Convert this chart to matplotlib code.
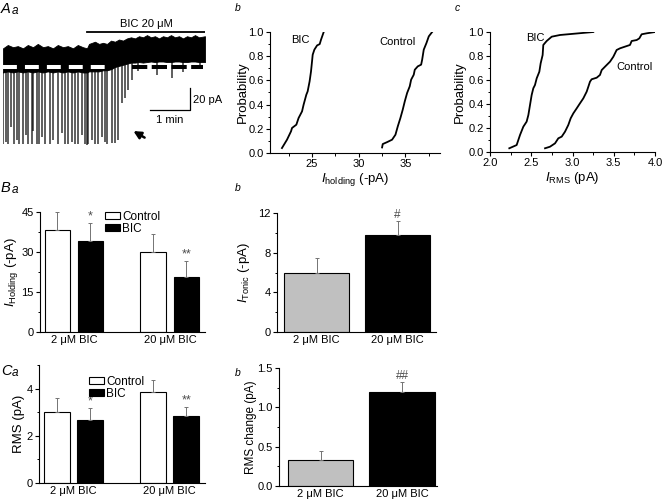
import numpy as np
import matplotlib
matplotlib.use("Agg")
import matplotlib.pyplot as plt
from matplotlib.patches import Patch
from matplotlib.ticker import MultipleLocator

plt.rcParams['font.family'] = ['Liberation Sans', 'DejaVu Sans']
plt.rcParams['mathtext.fontset'] = 'custom'
plt.rcParams['mathtext.rm'] = 'Liberation Sans'
plt.rcParams['mathtext.it'] = 'Liberation Sans:italic'
plt.rcParams['lines.scale_dashes'] = False
plt.rcParams['font.size'] = 8

# ---- data ----
# Aa: current trace (time in min, current in pA relative to control baseline)
env_t = [0, 0.12, 0.25, 0.37, 0.5, 0.62, 0.75, 0.87, 1.0, 1.12, 1.25, 1.37, 1.5, 1.62,
         1.75, 1.87, 2.0, 2.1, 2.15, 2.3, 2.4, 2.5, 2.6, 2.7, 2.8, 2.9, 3.0, 3.1,
         3.2, 3.3, 3.4, 3.5, 3.6, 3.7, 3.8, 3.9, 4.0, 4.1, 4.2, 4.3, 4.4, 4.5,
         4.6, 4.7, 4.8, 4.9, 5.05]
env_top = [17, 20, 18, 19, 17, 20, 18, 21, 18, 19, 17, 20, 18, 19,
           17, 20, 18, 17, 21, 23, 21, 22, 21, 24, 23, 25, 24, 26,
           27, 26, 28, 27, 29, 27, 28, 26, 28, 27, 29, 27, 28, 26,
           28, 27, 29, 27, 28]
env_bot = [-5, -4, -5, -4, -5, -4, -5, -4, -5, -4, -5, -4, -5, -4,
           -5, -4, -5, -5, -4, -4, -4, -3, -3, -2, 0, 1, 2, 3,
           4, 4, 4.5, 4, 4.5, 5, 4.5, 5, 5, 4.5, 4.5, 5, 5, 4.5,
           4.5, 5, 5, 4.5, 4.5]
spike_t = [0.01, 0.075, 0.13, 0.19, 0.275, 0.34, 0.41, 0.51, 0.575, 0.63, 0.72, 0.76,
           0.84, 0.91, 0.97, 1.05, 1.175, 1.26, 1.38, 1.47, 1.55, 1.63, 1.72, 1.8,
           1.88, 1.97, 2.05, 2.09, 2.13, 2.22, 2.3, 2.38, 2.47, 2.55, 2.61, 2.72,
           2.8, 2.88, 2.97, 3.05, 3.13, 3.22, 3.38, 3.85, 4.22, 4.5, 4.92]
spike_amp = [-70, -68, -70, -55, -70, -66, -70, -70, -62, -70, -70, -58,
             -70, -70, -64, -70, -70, -66, -70, -60, -70, -70, -68, -70,
             -70, -62, -70, -71, -70, -66, -70, -70, -64, -68, -70, -69,
             -69, -66, -33, -28, -21, -12, -4, -7, -10, -5, -1]

# Ab: cumulative holding current
hold_bic_x = [21.78, 22.32, 22.75, 22.86, 23.32, 23.56, 23.93, 24.1, 24.39, 24.53,
              24.74, 24.89, 25.0, 25.07, 25.25, 25.54, 25.82, 25.96, 26.25]
hold_bic_p = [0.041, 0.11, 0.179, 0.207, 0.234, 0.289, 0.344, 0.4, 0.482, 0.509,
              0.592, 0.674, 0.757, 0.812, 0.854, 0.889, 0.9, 0.936, 1.0]
hold_ctl_x = [32.5, 32.57, 33.04, 33.57, 33.93, 34.18, 34.46, 34.71, 34.93, 35.18,
              35.46, 35.61, 35.89, 36.0, 36.32, 36.68, 36.79, 36.96, 37.25, 37.5, 37.86]
hold_ctl_p = [0.046, 0.074, 0.09, 0.11, 0.151, 0.22, 0.289, 0.358, 0.427, 0.496,
              0.551, 0.606, 0.647, 0.688, 0.716, 0.73, 0.771, 0.854, 0.909, 0.964, 1.0]

# Ac: cumulative RMS noise
rms_bic_x = [2.234, 2.323, 2.364, 2.404, 2.444, 2.465, 2.485, 2.505, 2.525, 2.545,
             2.566, 2.598, 2.614, 2.638, 2.646, 2.687, 2.748, 2.848, 3.252]
rms_bic_p = [0.031, 0.058, 0.142, 0.211, 0.253, 0.308, 0.392, 0.475, 0.531, 0.558,
             0.614, 0.669, 0.739, 0.808, 0.892, 0.925, 0.961, 0.975, 1.0]
rms_ctl_x = [2.667, 2.727, 2.788, 2.828, 2.869, 2.909, 2.949, 2.978, 3.01, 3.051,
             3.091, 3.131, 3.172, 3.192, 3.212, 3.232, 3.293, 3.333, 3.354, 3.394,
             3.455, 3.495, 3.535, 3.576, 3.636, 3.697, 3.717, 3.778, 3.81, 3.838,
             3.899, 4.0]
rms_ctl_p = [0.031, 0.044, 0.072, 0.114, 0.128, 0.169, 0.225, 0.281, 0.322, 0.364,
             0.406, 0.447, 0.503, 0.544, 0.586, 0.606, 0.619, 0.642, 0.683, 0.711,
             0.753, 0.794, 0.85, 0.864, 0.878, 0.892, 0.925, 0.933, 0.947, 0.981,
             0.989, 1.0]

groups = ['2 \u03bcM BIC', '20 \u03bcM BIC']

# Ba: holding current
hold_ctl = [38.2, 30.1]
hold_ctl_err = [6.9, 6.6]
hold_bic = [34.1, 20.5]
hold_bic_err = [6.8, 6.2]
hold_sig = ['*', '**']

# Bb: tonic current
tonic = [6.0, 9.8]
tonic_err = [1.5, 1.35]
tonic_sig = ['', '#']

# Ca: RMS noise
rms_ctl = [3.0, 3.86]
rms_ctl_err = [0.6, 0.52]
rms_bic = [2.65, 2.82]
rms_bic_err = [0.53, 0.4]
rms_sig = ['*', '**']

# Cb: RMS change
rms_change = [0.33, 1.19]
rms_change_err = [0.12, 0.13]
rms_change_sig = ['', '##']

W, H = 664, 499
fig = plt.figure(figsize=(W / 100, H / 100), dpi=100)


def px_axes(x0, y0, x1, y1):
    ax = fig.add_axes([x0 / W, 1 - y1 / H, (x1 - x0) / W, (y1 - y0) / H])
    ax.px_left, ax.px_width = x0, x1 - x0
    return ax


def ylabel_at(ax, text, size, right_px):
    # right edge of the rotated label sits at right_px (figure pixels)
    ax.set_ylabel(text, fontsize=size)
    ax.yaxis.set_label_coords((right_px - ax.px_left) / ax.px_width, 0.5)


def origin_style(ax):
    for s in ['top', 'right']:
        ax.spines[s].set_visible(False)
    for s in ['left', 'bottom']:
        ax.spines[s].set_linewidth(0.8)
    ax.tick_params(which='major', direction='out', length=3, width=0.8, labelsize=8, pad=1.5)
    ax.tick_params(which='minor', direction='out', length=1.8, width=0.7)


def panel_label(x, y, big, small=None):
    fig.text(x / W, 1 - y / H, big, fontsize=10.5 if small else 7.5, style='italic', va='top')
    if small:
        fig.text((x + 11) / W, 1 - (y + 3) / H, small, fontsize=8.5, style='italic', va='top')


# ---- Aa trace ----
ax = px_axes(3, 15, 205, 150)
ax.set_xlim(0, 5.05)
ax.set_ylim(-75.5, 47.3)
ax.axis('off')
ax.fill_between(env_t, env_bot, env_top, color='black', lw=0.6)
ax.vlines(spike_t, np.interp(spike_t, env_t, env_bot), spike_amp, color='black',
          alpha=0.8, lw=1.1)
ax.plot([0, 2.6], [0, 0], color='white', lw=2.9, dashes=(10, 5.8), solid_capstyle='butt')
ax.plot([3.22, 5.0], [0, 0], color='black', lw=2.9, dashes=(11, 3.2), solid_capstyle='butt')
ax.plot([2.1, 5.05], [31.8, 31.8], color='black', lw=1.3)
ax.text(3.58, 35, 'BIC 20 \u03bcM', ha='center', va='bottom', fontsize=8)
ax.plot([3.675, 4.675, 4.675], [-39.1, -39.1, -19.1], color='black', lw=0.9)
ax.text(4.76, -30, '20 pA', ha='left', va='center', fontsize=8)
ax.text(4.175, -44, '1 min', ha='center', va='top', fontsize=8)
ax.annotate('', xy=(3.2, -57), xytext=(3.6, -65.5),
            arrowprops=dict(arrowstyle='-|>', color='black', lw=1.8, mutation_scale=11))
panel_label(1, 2, 'A', 'a')

# ---- Ab cumulative holding ----
ax = px_axes(270, 32, 440, 153)
ax.plot(hold_bic_x, hold_bic_p, color='black', lw=1.3)
ax.plot(hold_ctl_x, hold_ctl_p, color='black', lw=1.3)
ax.set_xlim(20.5, 38.7)
ax.set_ylim(0, 1.0)
ax.xaxis.set_major_locator(MultipleLocator(5))
ax.xaxis.set_minor_locator(MultipleLocator(2.5))
ax.yaxis.set_major_locator(MultipleLocator(0.2))
ax.yaxis.set_minor_locator(MultipleLocator(0.1))
ax.yaxis.set_major_formatter('{x:.1f}')
origin_style(ax)
ylabel_at(ax, 'Probability', 9.5, 249)
ax.set_xlabel(r'$I_{\mathrm{holding}}$ (-pA)', fontsize=9.5, labelpad=1)
ax.text(23.8, 0.93, 'BIC', ha='center', va='center', fontsize=8)
ax.text(34.2, 0.92, 'Control', ha='center', va='center', fontsize=8)
panel_label(235, 3, 'b')

# ---- Ac cumulative RMS ----
ax = px_axes(490, 32, 655, 152)
ax.plot(rms_bic_x, rms_bic_p, color='black', lw=1.3)
ax.plot(rms_ctl_x, rms_ctl_p, color='black', lw=1.3)
ax.set_xlim(2.0, 4.0)
ax.set_ylim(0, 1.0)
ax.xaxis.set_major_locator(MultipleLocator(0.5))
ax.xaxis.set_minor_locator(MultipleLocator(0.25))
ax.yaxis.set_major_locator(MultipleLocator(0.2))
ax.yaxis.set_minor_locator(MultipleLocator(0.1))
ax.xaxis.set_major_formatter('{x:.1f}')
ax.yaxis.set_major_formatter('{x:.1f}')
origin_style(ax)
ylabel_at(ax, 'Probability', 9.5, 466)
ax.set_xlabel(r'$I_{\mathrm{RMS}}$ (pA)', fontsize=9.5, labelpad=1)
ax.text(2.55, 0.95, 'BIC', ha='center', va='center', fontsize=8)
ax.text(3.75, 0.71, 'Control', ha='center', va='center', fontsize=8)
panel_label(455, 3, 'c')


def paired_bars(ax, ctl, ctl_err, bic, bic_err, sig, ylim, major, legend_xy):
    pos = np.arange(len(groups))
    off, w = 0.172, 0.27
    ekw = dict(ecolor='0.45', elinewidth=0.7, capsize=1.5, capthick=0.7)
    ax.bar(pos - off, ctl, w, color='white', edgecolor='black', lw=0.8,
           yerr=[np.zeros(len(ctl)), ctl_err], error_kw=ekw)
    ax.bar(pos + off, bic, w, color='black', edgecolor='black', lw=0.8,
           yerr=[np.zeros(len(bic)), bic_err], error_kw=ekw)
    for p, v, e, s in zip(pos, bic, bic_err, sig):
        ax.text(p + off, v + e + ylim * 0.005, s, ha='center', va='bottom', fontsize=9, color='0.3')
    ax.set_xlim(-0.354, 1.365)
    ax.set_ylim(0, ylim)
    ax.set_xticks(pos)
    ax.set_xticklabels(groups)
    ax.yaxis.set_major_locator(MultipleLocator(major))
    ax.yaxis.set_minor_locator(MultipleLocator(major / 2))
    origin_style(ax)
    ax.tick_params(axis='x', which='both', length=0, pad=2)
    handles = [Patch(facecolor='white', edgecolor='black', lw=0.8),
               Patch(facecolor='black', edgecolor='black', lw=0.8)]
    ax.legend(handles, ['Control', 'BIC'], loc='upper left',
              bbox_to_anchor=(legend_xy[0] / W, 1 - legend_xy[1] / H),
              bbox_transform=fig.transFigure, frameon=False, fontsize=8.5,
              handlelength=1.3, handleheight=0.55, handletextpad=0.15,
              labelspacing=0.0, borderpad=0, borderaxespad=0)


def single_bars(ax, vals, errs, sig, ylim, major, fmt=None):
    pos = np.arange(len(groups))
    ekw = dict(ecolor='0.45', elinewidth=0.7, capsize=1.5, capthick=0.7)
    ax.bar(pos, vals, 0.8, color=['#c0c0c0', 'black'], edgecolor='black', lw=0.8,
           yerr=[np.zeros(len(vals)), errs], error_kw=ekw)
    for p, v, e, s in zip(pos, vals, errs, sig):
        ax.text(p, v + e + ylim * 0.005, s, ha='center', va='bottom', fontsize=8.5, color='0.3')
    ax.set_ylim(0, ylim)
    ax.set_xticks(pos)
    ax.set_xticklabels(groups)
    ax.yaxis.set_major_locator(MultipleLocator(major))
    ax.yaxis.set_minor_locator(MultipleLocator(major / 2))
    if fmt:
        ax.yaxis.set_major_formatter(fmt)
    origin_style(ax)
    ax.tick_params(axis='x', which='both', length=0, pad=2)


# ---- Ba ----
ax = px_axes(40, 212, 205, 332)
paired_bars(ax, hold_ctl, hold_ctl_err, hold_bic, hold_bic_err, hold_sig, 45, 15, (105, 211))
ylabel_at(ax, r'$I_{\mathrm{Holding}}$ (-pA)', 9.5, 20)
panel_label(1, 181, 'B', 'a')

# ---- Bb ----
ax = px_axes(277, 213, 436, 332)
single_bars(ax, tonic, tonic_err, tonic_sig, 12, 4)
ax.set_xlim(-0.488, 1.475)
ylabel_at(ax, r'$I_{\mathrm{Tonic}}$ (-pA)', 9.5, 252)
panel_label(235, 183, 'b')

# ---- Ca ----
ax = px_axes(39, 365, 205, 483)
paired_bars(ax, rms_ctl, rms_ctl_err, rms_bic, rms_bic_err, rms_sig, 5, 2, (89, 376))
ylabel_at(ax, 'RMS (pA)', 9.5, 25)
panel_label(1, 364, 'C', 'a')

# ---- Cb ----
ax = px_axes(279, 368, 437, 486)
single_bars(ax, rms_change, rms_change_err, rms_change_sig, 1.5, 0.5, '{x:.1f}')
ax.set_xlim(-0.51, 1.43)
ylabel_at(ax, 'RMS change (pA)', 8.5, 257)
panel_label(235, 368, 'b')

fig.savefig('out.png', dpi=100)
